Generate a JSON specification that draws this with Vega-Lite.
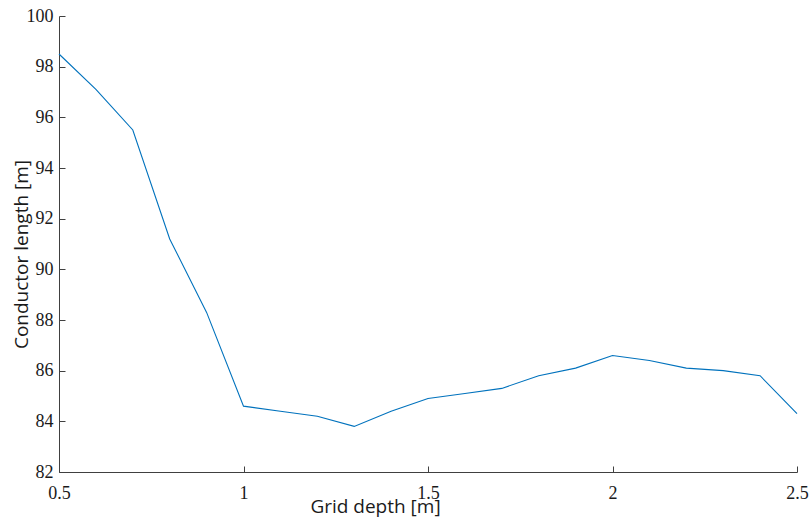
{
  "$schema": "https://vega.github.io/schema/vega-lite/v6.json",
  "width": 738,
  "height": 456,
  "autosize": {"type": "none"},
  "padding": {"left": 59, "top": 16, "right": 14, "bottom": 51},
  "background": "white",
  "config": {"view": {"stroke": null}},
  "data": {"values": [
    {"depth": 0.5, "length": 98.5},
    {"depth": 0.6, "length": 97.1},
    {"depth": 0.7, "length": 95.5},
    {"depth": 0.8, "length": 91.2},
    {"depth": 0.9, "length": 88.3},
    {"depth": 1.0, "length": 84.6},
    {"depth": 1.1, "length": 84.4},
    {"depth": 1.2, "length": 84.2},
    {"depth": 1.3, "length": 83.8},
    {"depth": 1.4, "length": 84.4},
    {"depth": 1.5, "length": 84.9},
    {"depth": 1.6, "length": 85.1},
    {"depth": 1.7, "length": 85.3},
    {"depth": 1.8, "length": 85.8},
    {"depth": 1.9, "length": 86.1},
    {"depth": 2.0, "length": 86.6},
    {"depth": 2.1, "length": 86.4},
    {"depth": 2.2, "length": 86.1},
    {"depth": 2.3, "length": 86.0},
    {"depth": 2.4, "length": 85.8},
    {"depth": 2.5, "length": 84.3}
  ]},
  "mark": {"type": "line", "color": "#0072BD", "strokeWidth": 1.1},
  "encoding": {
    "x": {
      "field": "depth", "type": "quantitative",
      "scale": {"domain": [0.5, 2.5], "nice": false, "zero": false},
      "axis": {
        "title": "Grid depth [m]",
        "values": [0.5, 1, 1.5, 2, 2.5],
        "format": "~g",
        "grid": false,
        "domainColor": "#404040",
        "tickColor": "#404040",
        "tickSize": -6,
        "labelPadding": 18,
        "labelFont": "Liberation Serif",
        "labelFontSize": 18,
        "labelColor": "#1a1a1a",
        "labelFlush": false,
        "titleFont": "Open Sans",
        "titleFontSize": 19,
        "titleFontWeight": "normal",
        "titleColor": "#1a1a1a",
        "titleX": 316,
        "titleY": 40,
        "titleAlign": "center",
        "titleBaseline": "alphabetic"
      }
    },
    "y": {
      "field": "length", "type": "quantitative",
      "scale": {"domain": [82, 100], "nice": false, "zero": false},
      "axis": {
        "title": "Conductor length [m]",
        "values": [82, 84, 86, 88, 90, 92, 94, 96, 98, 100],
        "grid": false,
        "domainColor": "#404040",
        "tickColor": "#404040",
        "tickSize": -6,
        "labelPadding": 12,
        "labelFont": "Liberation Serif",
        "labelFontSize": 18,
        "labelColor": "#1a1a1a",
        "labelFlush": false,
        "titleFont": "Open Sans",
        "titleFontSize": 19,
        "titleFontWeight": "normal",
        "titleColor": "#1a1a1a",
        "titleX": -32,
        "titleY": 238,
        "titleAlign": "center",
        "titleBaseline": "alphabetic"
      }
    }
  }
}
